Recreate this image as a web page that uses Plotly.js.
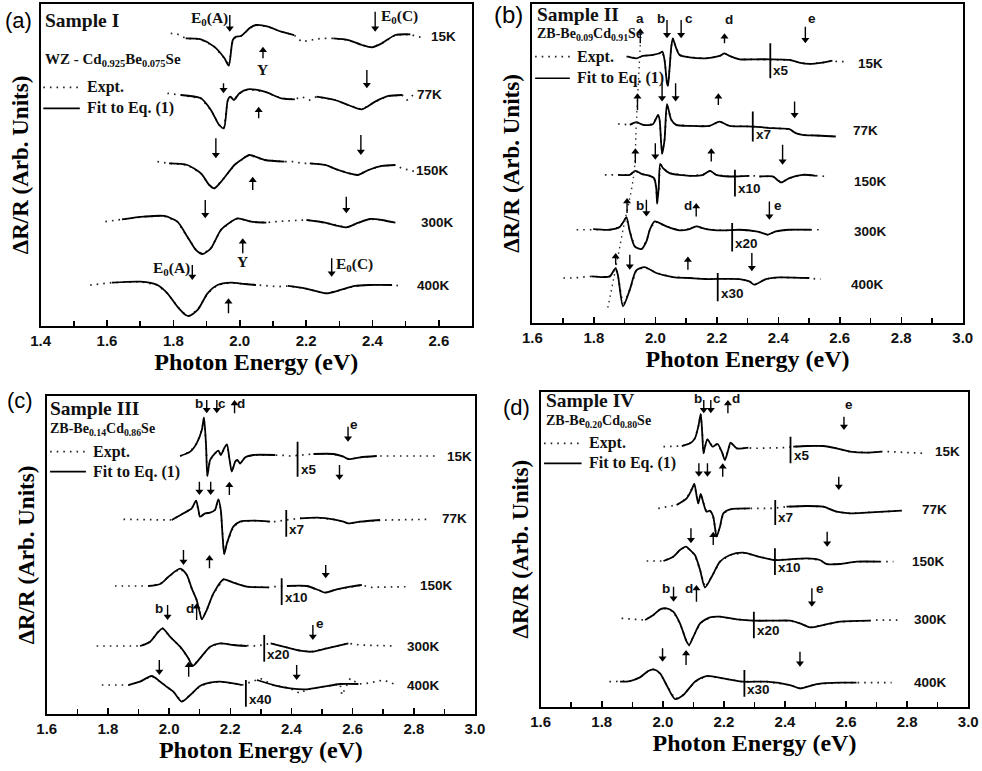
<!DOCTYPE html>
<html><head><meta charset="utf-8">
<script src="https://cdn.plot.ly/plotly-3.0.1.min.js"></script>
<style>html,body{margin:0;padding:0;background:#fff}#chart{width:982px;height:771px}</style>
</head><body><div id="chart"></div>
<script>
// ---------- shared ----------
const temps = ['15K','77K','150K','300K','400K'];

// ---------- Panel (a) : Sample I ----------
const a_off = [868,688,488,316,126];
const a_fitE = [
 [1.837,1.883,1.923,1.954,1.967,1.979,1.989,2.004,2.019,2.029,2.049,2.085,2.125,2.164,null,2.282,2.327,2.368,2.398,2.428,2.469,2.514],
 [1.822,1.883,1.913,1.938,1.952,1.964,1.972,1.982,1.999,2.024,2.075,2.125,2.166,null,2.231,2.287,2.327,2.368,2.408,2.448,2.489],
 [1.787,1.842,1.883,1.908,1.923,1.948,1.984,2.004,2.029,2.075,2.135,null,2.211,2.257,2.297,2.337,2.356,2.388,2.428,2.469],
 [1.645,1.711,1.772,1.812,1.842,1.868,1.888,1.913,1.943,1.974,1.994,2.034,2.080,null,2.201,2.257,2.297,2.322,2.358,2.393,2.428,2.469],
 [1.615,1.701,1.752,1.782,1.812,1.837,1.847,1.873,1.903,1.933,1.974,2.014,2.049,null,2.145,2.196,2.236,2.262,2.297,2.347,2.388,2.459]
];
const a_fitV = [
 [-5,-8,-30,-65,-87,-10,0,2,15,25,35,30,15,5,null,-5,-10,-25,-32,-20,5,7],
 [5,-5,-40,-85,-95,-10,0,-10,10,22,15,-5,-8,null,0,-10,-25,-38,-15,2,5],
 [0,-5,-30,-65,-75,-50,-5,10,25,10,5,null,0,-5,-20,-32,-35,-20,-8,-5],
 [4,12,14,-3,-48,-88,-100,-83,-28,-3,7,-3,-6,null,2,-6,-16,-20,-6,5,2,-6],
 [4,7,-3,-28,-68,-93,-96,-78,-28,-3,4,0,-3,null,-6,-13,-23,-28,-20,-6,-3,-3]
];
const a_dotE = [[1.792,1.812,2.186,2.216,2.246,2.534,2.549],[1.782,1.802,2.186,2.211,2.504,2.529],[1.752,2.166,2.186,2.489,2.529],[1.595,1.615,2.105,2.156],[1.549,1.580,2.085,2.115,2.489]];
const a_dotV = [[10,8,-15,-10,-5,0,-2],[10,8,0,-10,-10,10],[5,5,0,-15,-25],[-3,0,-3,0],[-3,0,-5,-8,-6]];
const a_arE = [1.970,2.408,2.070,1.951,2.383,2.057,1.928,2.365,2.039,1.896,2.321,2.009,1.857,2.277,1.966];
const a_arTail = [933,943,803,728,768,623,563,573,408,378,388,218,183,203,38];
const a_arTip = [883,883,838,698,713,658,503,513,448,323,338,263,138,148,83];
const a_lbl = ['E<sub>0</sub>(A)','E<sub>0</sub>(C)','Y','Y','E<sub>0</sub>(A)','E<sub>0</sub>(C)'];
const a_lblE = [1.908,2.481,2.070,2.009,1.794,2.347];
const a_lblY = [923,928,768,193,173,183];
const a_tE = [2.570,2.529,2.524,2.539,2.529];
const a_tY = [870,695,466,310,120];
const a_legE = [1.408,1.518];
const a_legY = [716,653];

// ---------- Panel (b) : Sample II ----------
const b_off = [800,595,445,280,135];
const b_fitE = [
 [1.911,1.938,1.960,1.992,2.014,2.023,2.030,2.038,2.041,2.046,2.052,2.057,2.066,2.079,2.111,2.165,2.209,2.225,2.241,2.274,2.328,2.371,2.436,2.468,2.501,2.544,2.576],
 [1.917,1.938,1.960,1.992,2.009,2.014,2.022,2.030,2.038,2.052,2.068,2.111,2.176,2.209,2.241,2.317,2.382,2.436,2.457,2.479,2.522,2.587],
 [1.879,1.917,1.935,1.955,1.982,1.996,2.003,2.006,2.011,2.016,2.025,2.046,2.111,2.155,2.178,2.198,2.241,2.306,null,2.338,2.382,2.409,2.436,2.479,2.522],
 [1.798,1.852,1.884,1.897,1.906,1.917,1.933,1.955,1.971,1.982,1.998,2.036,2.079,2.111,2.133,2.165,2.219,2.274,2.328,2.349,2.365,2.392,2.436,2.506],
 [1.792,1.830,1.852,1.871,1.879,1.895,1.917,1.938,1.965,2.003,2.057,2.111,2.165,2.274,2.306,2.322,2.360,2.403,2.501]
];
const b_fitV = [
 [0,-5,2,5,10,15,-10,-80,-88,-40,30,55,30,5,-2,-5,2,10,2,-8,-8,-8,-10,-18,-22,-18,-12],
 [0,8,0,2,30,15,-87,-45,62,15,0,-3,-3,10,-3,-5,-10,-13,-25,-30,-32,-35],
 [0,0,12,3,-3,-10,-40,-87,-40,33,20,5,-3,0,12,0,-5,-3,null,-5,-5,-23,-10,0,-3],
 [2,0,8,25,38,-5,-50,-58,-35,0,25,10,-2,2,10,2,-2,0,-5,-10,-15,-5,0,0],
 [5,3,5,30,5,-85,-35,23,33,15,3,0,-3,-3,-10,-20,-3,2,0]
];
const b_dotE = [[1.906,2.592,2.614],[1.879,1.895],[1.836,1.857,2.322,2.544,2.560],[1.744,1.771,2.533],[1.701,1.733,2.522,2.538]];
const b_dotV = [[0,-15,-15],[3,2],[0,0,-3,-3,-5],[0,0,0],[0,0,-3,-3]];
const b_guideE = [1.951,1.938,1.930,1.895,1.865,1.843];
const b_guideY = [835,595,445,280,135,35];
const b_arE = [1.951,2.038,2.084,2.225,2.488,1.942,2.022,2.066,2.205,2.453,1.935,2.000,2.182,2.414,1.908,1.971,2.133,2.371,1.871,1.917,2.106,2.314];
const b_arTail = [840,910,910,840,890,640,720,720,655,665,480,540,485,535,330,370,320,365,175,205,160,210];
const b_arTip = [885,855,855,870,840,690,665,665,690,615,525,490,525,475,375,320,360,310,210,160,200,155];
const b_lbl = ['a','b','c','d','e','b','d','e'];
const b_lblE = [1.951,2.019,2.109,2.239,2.509,1.949,2.106,2.399];
const b_lblY = [915,915,915,912,915,352,352,352];
const b_scE = [2.374,2.317,2.259,2.250,2.203];
const b_scY1 = [840,635,460,300,150];
const b_scY2 = [735,545,380,215,65];
const b_scTxt = ['x5','x7','x10','x20','x30'];
const b_tE = [2.652,2.636,2.641,2.641,2.630];
const b_tY = [780,578,425,275,115];
const b_legE = [1.609,1.722];
const b_legY = [800,735];

// ---------- Panel (c) : Sample III ----------
const c_off = [774,584,384,204,87];
const c_fitE = [
 [2.036,2.069,2.090,2.107,2.114,2.121,2.125,2.134,2.150,2.161,2.169,2.180,2.189,2.197,2.205,2.216,2.223,2.232,2.249,2.276,2.347,null,2.472,2.537,2.570,2.586,2.625,2.679],
 [2.009,2.047,2.074,2.088,2.096,2.101,2.118,2.134,2.150,2.161,2.169,2.175,2.180,2.189,2.210,2.232,2.276,2.330,null,2.428,2.483,2.537,2.570,2.586,2.625,2.690],
 [1.932,1.971,1.998,2.036,2.058,2.074,2.090,2.101,2.107,2.123,2.145,2.178,2.210,2.254,2.325,null,2.385,2.450,2.488,2.510,2.548,2.592,2.630],
 [1.905,1.938,1.965,1.979,2.003,2.036,2.063,2.077,2.101,2.134,2.167,2.210,2.254,null,2.332,2.374,2.428,2.466,2.516,2.586],
 [1.867,1.905,1.943,1.971,1.992,2.014,2.041,2.069,2.101,2.134,2.167,2.210,2.238,null,2.287,2.341,2.396,2.450,2.505,2.559,2.619]
];
const c_fitV = [
 [0,13,38,78,116,28,-60,-12,8,16,3,23,35,-7,-47,-17,-12,-22,-4,3,3,null,6,6,-2,-9,-4,0],
 [-2,18,33,56,28,8,18,20,28,60,28,-52,-104,-72,-22,-7,-4,-7,null,3,5,0,-7,-12,-7,-2],
 [0,6,28,52,33,-7,-42,-82,-100,-72,-22,20,10,-2,-4,null,0,0,-12,-20,-10,-2,3],
 [0,13,43,53,28,-2,-37,-60,-37,-2,8,3,0,null,8,-2,-14,-17,-7,8],
 [0,10,27,10,-5,-20,-50,-30,-3,7,10,5,0,null,15,0,-10,-13,-5,3,3]
];
const c_dotE = [[2.374,2.396,2.712,2.875],[1.851,1.927,2.352,2.379,2.712,2.853],[1.823,1.883,2.341,2.657,2.783],[1.763,1.829,2.287,2.625,2.734],[1.780,1.829,2.298,2.319,2.428,2.565,2.592,2.646,2.701,2.744]];
const c_dotV = [[2,0,0,0],[0,0,-7,-2,-2,0],[0,0,-2,-4,-2],[0,0,0,3,0],[0,0,20,10,-25,-30,20,5,15,0]];
const c_arE = [2.123,2.156,2.214,2.585,2.099,2.136,2.197,2.557,2.047,2.132,2.512,1.995,2.090,2.470,1.968,2.064,2.417];
const c_arTail = [942,942,902,862,697,697,657,747,492,437,447,327,282,267,162,112,147];
const c_arTip = [902,902,942,817,657,657,697,702,447,477,407,282,332,222,117,157,102];
const c_lbl = ['b','c','d','e','b','d','e'];
const c_lblE = [2.099,2.174,2.234,2.605,1.968,2.069,2.494];
const c_lblY = [930,930,930,867,317,317,272];
const c_scE = [2.420,2.383,2.368,2.311,2.251];
const c_scY1 = [817,612,407,237,102];
const c_scY2 = [712,532,327,157,22];
const c_scTxt = ['x5','x7','x10','x20','x40'];
const c_tE = [2.902,2.886,2.815,2.772,2.772];
const c_tY = [772,587,387,204,87];
const c_legE = [1.611,1.728];
const c_legY = [787,727];

// ---------- Panel (d) : Sample IV ----------
const d_off = [780,595,437,258,75];
const d_fitE = [
 [2.062,2.089,2.105,2.116,2.124,2.129,2.133,2.138,2.146,2.163,2.179,2.193,2.203,2.214,2.222,2.242,2.280,null,2.427,2.471,2.525,2.569,2.613,2.667,2.716],
 [2.045,2.078,2.094,2.103,2.111,2.116,2.124,2.133,2.143,2.154,2.165,2.176,2.187,2.198,2.220,2.285,null,2.405,2.471,2.525,2.569,2.613,2.667,2.782],
 [2.002,2.034,2.056,2.076,2.089,2.105,2.122,2.138,2.160,2.187,2.220,2.263,2.307,2.362,2.416,2.471,2.514,2.536,2.580,2.634,2.711],
 [1.942,1.969,1.991,2.012,2.034,2.056,2.078,2.086,2.100,2.122,2.154,2.187,2.242,2.296,2.362,2.416,2.449,2.482,2.525,2.580,2.678],
 [1.860,1.892,1.925,1.952,1.969,1.991,2.012,2.040,2.067,2.105,2.143,2.198,2.263,2.340,2.416,2.449,2.504,2.580,2.634]
];
const d_fitV = [
 [2,10,25,60,98,40,-20,0,22,0,8,-15,-40,-10,12,-5,-3,null,0,2,2,-5,-15,-18,-15],
 [10,30,55,73,35,15,43,15,-10,-7,-25,-85,-55,-15,-3,0,null,5,7,5,-10,-15,-13,-7],
 [0,13,33,43,33,18,-27,-79,-47,-2,18,25,15,3,5,8,3,-9,-9,-2,-2],
 [2,17,34,37,27,-8,-63,-73,-48,-8,10,12,4,0,0,0,-8,-20,-13,-3,0],
 [0,2,13,32,37,25,-10,-52,-40,0,17,10,0,0,-10,-20,-7,-3,-3]
];
const d_dotE = [[2.002,2.034,2.296,2.394,2.744,2.853],[1.985,2.012,2.307,2.362],[1.947,1.974,2.733,2.755],[1.865,1.914,2.700,2.776],[1.825,2.656,2.749]];
const d_dotV = [[0,0,-5,-3,-15,-20],[0,5,0,0],[0,0,-2,-2],[7,4,2,2],[0,-3,-3]];
const d_arE = [2.134,2.157,2.213,2.593,2.118,2.146,2.196,2.576,2.092,2.165,2.538,2.035,2.110,2.488,1.999,2.076,2.449];
const d_arTail = [920,920,880,870,730,730,690,690,535,485,525,360,315,355,175,125,165];
const d_arTip = [880,880,920,830,690,690,730,650,490,525,480,315,365,300,135,170,120];
const d_lbl = ['b','c','d','e','b','d','e'];
const d_lblE = [2.116,2.178,2.239,2.611,2.010,2.086,2.514];
const d_lblY = [925,925,925,905,355,355,355];
const d_scE = [2.418,2.368,2.367,2.298,2.267];
const d_scY1 = [810,620,475,285,110];
const d_scY2 = [730,545,395,205,30];
const d_scTxt = ['x5','x7','x10','x20','x30'];
const d_tE = [2.885,2.842,2.809,2.815,2.815];
const d_tY = [765,592,435,262,72];
const d_legE = [1.611,1.734];
const d_legY = [790,730];

// ---------- panel descriptors ----------
const SERIF = 'Liberation Serif, Times New Roman, serif';
const SANS = 'Liberation Sans, Arial, sans-serif';
const panels = [
 {tag:'(a)', tagSize:22, sample:'Sample I', comp:'WZ - Cd<sub>0.925</sub>Be<sub>0.075</sub>Se', compSize:15,
  sE:1.408, sY:918, cY:798, xr:[1.4,2.7], t0:1.4, yr:[0,966], hpx:322,
  dom:{x:[0.0414,0.4807], y:[0.5772,0.9948]}, tagPos:[0.003,0.974],
  off:a_off, fitE:a_fitE, fitV:a_fitV, dotE:a_dotE, dotV:a_dotV,
  arE:a_arE, arTail:a_arTail, arTip:a_arTip, lbl:a_lbl, lblE:a_lblE, lblY:a_lblY, lblFont:'serif',
  sc:null, tE:a_tE, tY:a_tY, legE:a_legE, legY:a_legY},
 {tag:'(b)', tagSize:24, sample:'Sample II', comp:'ZB-Be<sub>0.09</sub>Cd<sub>0.91</sub>Se', compSize:14,
  sE:1.609, sY:925, cY:865, xr:[1.6,3.0], t0:1.6, yr:[0,958], hpx:319,
  dom:{x:[0.5421,0.9804], y:[0.5811,0.9948]}, tagPos:[0.501,0.981],
  off:b_off, fitE:b_fitE, fitV:b_fitV, dotE:b_dotE, dotV:b_dotV,
  arE:b_arE, arTail:b_arTail, arTip:b_arTip, lbl:b_lbl, lblE:b_lblE, lblY:b_lblY, lblFont:'sans',
  sc:{E:b_scE, Y1:b_scY1, Y2:b_scY2, T:b_scTxt}, tE:b_tE, tY:b_tY, legE:b_legE, legY:b_legY,
  guide:{E:b_guideE, Y:b_guideY}},
 {tag:'(c)', tagSize:22, sample:'Sample III', comp:'ZB-Be<sub>0.14</sub>Cd<sub>0.86</sub>Se', compSize:14,
  sE:1.605, sY:917, cY:852, xr:[1.6,3.0], t0:1.6, yr:[0,954], hpx:318,
  dom:{x:[0.0476,0.4837], y:[0.0739,0.4864]}, tagPos:[0.005,0.481],
  off:c_off, fitE:c_fitE, fitV:c_fitV, dotE:c_dotE, dotV:c_dotV,
  arE:c_arE, arTail:c_arTail, arTip:c_arTip, lbl:c_lbl, lblE:c_lblE, lblY:c_lblY, lblFont:'sans',
  sc:{E:c_scE, Y1:c_scY1, Y2:c_scY2, T:c_scTxt}, tE:c_tE, tY:c_tY, legE:c_legE, legY:c_legY},
 {tag:'(d)', tagSize:22, sample:'Sample IV', comp:'ZB-Be<sub>0.20</sub>Cd<sub>0.80</sub>Se', compSize:14,
  sE:1.611, sY:918, cY:855, xr:[1.6,3.0], t0:1.6, yr:[0,945], hpx:315,
  dom:{x:[0.5506,0.9860], y:[0.0834,0.4920]}, tagPos:[0.510,0.472],
  off:d_off, fitE:d_fitE, fitV:d_fitV, dotE:d_dotE, dotV:d_dotV,
  arE:d_arE, arTail:d_arTail, arTip:d_arTip, lbl:d_lbl, lblE:d_lblE, lblY:d_lblY, lblFont:'sans',
  sc:{E:d_scE, Y1:d_scY1, Y2:d_scY2, T:d_scTxt}, tE:d_tE, tY:d_tY, legE:d_legE, legY:d_legY}
];

const traces = [];
const annotations = [];
const layout = {
  width:982, height:771, margin:{l:0,r:0,t:0,b:0},
  paper_bgcolor:'#fff', plot_bgcolor:'#fff', showlegend:false,
  font:{family:SANS, color:'#000'}
};
const DOT = {color:'#222', width:1.7, dash:'1.6px,5px'};
const FIT = {color:'#000', width:1.8, shape:'spline', smoothing:0.7};
const HEAD = 7; // arrow-head marker size (px)

panels.forEach((P, k) => {
  const n = k + 1;
  const xa = n === 1 ? 'x' : 'x' + n;
  const ya = n === 1 ? 'y' : 'y' + n;
  const xkey = n === 1 ? 'xaxis' : 'xaxis' + n;
  const ykey = n === 1 ? 'yaxis' : 'yaxis' + n;
  layout[xkey] = {
    domain:P.dom.x, anchor:ya, range:P.xr, tick0:P.t0, dtick:0.2, tickformat:'.1f',
    ticks:'inside', ticklen:6, tickwidth:1.5, tickcolor:'#000',
    minor:{dtick:0.1, ticks:'inside', ticklen:5, tickwidth:1.5, tickcolor:'#000'},
    showline:true, linewidth:2, linecolor:'#000', mirror:true,
    showgrid:false, zeroline:false, automargin:false,
    tickfont:{family:SANS, size:15, weight:'bold', color:'#111'},
    title:{text:'Photon Energy (eV)', font:{family:SERIF, size:24, weight:'bold', color:'#000'}, standoff:0}
  };
  layout[ykey] = {
    domain:P.dom.y, anchor:xa, range:P.yr, showline:true, linewidth:2, linecolor:'#000', mirror:true,
    ticks:'', showticklabels:false, showgrid:false, zeroline:false, automargin:false,
    title:{text:'ΔR/R (Arb. Units)', font:{family:SERIF, size:23, weight:'bold', color:'#000'}, standoff:4}
  };

  // spectra: dotted experiment + solid fit
  temps.forEach((t, i) => {
    const pts = [];
    P.fitE[i].forEach((e, j) => { if (e !== null) pts.push([e, P.fitV[i][j]]); });
    P.dotE[i].forEach((e, j) => pts.push([e, P.dotV[i][j]]));
    pts.sort((p, q) => p[0] - q[0]);
    traces.push({x:pts.map(p => p[0]), y:pts.map(p => P.off[i] + p[1]), xaxis:xa, yaxis:ya,
      mode:'lines', line:DOT, hoverinfo:'skip', name:t + ' expt'});
    traces.push({x:P.fitE[i], y:P.fitV[i].map(v => v === null ? null : P.off[i] + v), xaxis:xa, yaxis:ya,
      mode:'lines', line:FIT, connectgaps:false, hoverinfo:'skip', name:t + ' fit'});
    annotations.push({x:P.tE[i], y:P.tY[i], xref:xa, yref:ya, text:t, showarrow:false, xanchor:'left',
      font:{family:SANS, size:13.5, weight:'bold', color:'#111'}});
  });

  // guide line through feature "a" (panel b)
  if (P.guide) traces.push({x:P.guide.E, y:P.guide.Y, xaxis:xa, yaxis:ya, mode:'lines',
    line:{color:'#333', width:1.4, dash:'1.5px,4px', shape:'spline'}, hoverinfo:'skip'});

  // scale-change markers
  if (P.sc) {
    const sx = [], sy = [];
    P.sc.E.forEach((e, j) => { sx.push(e, e, null); sy.push(P.sc.Y1[j], P.sc.Y2[j], null); });
    traces.push({x:sx, y:sy, xaxis:xa, yaxis:ya, mode:'lines', line:{color:'#000', width:1.8}, hoverinfo:'skip'});
    P.sc.E.forEach((e, j) => annotations.push({x:e, y:P.sc.Y2[j], xref:xa, yref:ya, text:P.sc.T[j],
      showarrow:false, xanchor:'left', yanchor:'bottom', xshift:1, yshift:-2,
      font:{family:SANS, size:13.5, weight:'bold', color:'#111'}}));
  }

  // transition arrows: shafts + triangular heads
  const unitsPerPx = (P.yr[1] - P.yr[0]) / P.hpx;
  const shx = [], shy = [], upx = [], upy = [], dnx = [], dny = [];
  P.arE.forEach((e, j) => {
    const tip = P.arTip[j], tail = P.arTail[j];
    const dir = tip > tail ? 1 : -1;
    const headC = tip - dir * (HEAD / 2) * unitsPerPx;
    shx.push(e, e, null); shy.push(tail, headC, null);
    if (dir > 0) { upx.push(e); upy.push(headC); } else { dnx.push(e); dny.push(headC); }
  });
  traces.push({x:shx, y:shy, xaxis:xa, yaxis:ya, mode:'lines', line:{color:'#000', width:1.4}, hoverinfo:'skip'});
  traces.push({x:upx, y:upy, xaxis:xa, yaxis:ya, mode:'markers', marker:{symbol:'triangle-up', size:HEAD, color:'#000'}, hoverinfo:'skip'});
  traces.push({x:dnx, y:dny, xaxis:xa, yaxis:ya, mode:'markers', marker:{symbol:'triangle-down', size:HEAD, color:'#000'}, hoverinfo:'skip'});

  // arrow labels
  P.lbl.forEach((s, j) => annotations.push({x:P.lblE[j], y:P.lblY[j], xref:xa, yref:ya, text:s, showarrow:false,
    font: P.lblFont === 'serif' ? {family:SERIF, size:15.5, weight:'bold', color:'#111'} : {family:SANS, size:13.5, weight:'bold', color:'#111'}}));

  // in-plot legend
  traces.push({x:P.legE, y:[P.legY[0], P.legY[0]], xaxis:xa, yaxis:ya, mode:'lines', line:DOT, hoverinfo:'skip'});
  traces.push({x:P.legE, y:[P.legY[1], P.legY[1]], xaxis:xa, yaxis:ya, mode:'lines',
    line:{color:'#000', width:1.6}, hoverinfo:'skip'});
  const legFont = {family:SERIF, size:16, weight:'bold', color:'#111'};
  annotations.push({x:P.legE[1], y:P.legY[0], xref:xa, yref:ya, text:'Expt.', showarrow:false, xanchor:'left', xshift:5, font:legFont});
  annotations.push({x:P.legE[1], y:P.legY[1], xref:xa, yref:ya, text:'Fit to Eq. (1)', showarrow:false, xanchor:'left', xshift:5, font:legFont});
  annotations.push({x:P.sE, y:P.sY, xref:xa, yref:ya, text:P.sample, showarrow:false, xanchor:'left',
    font:{family:SERIF, size:19.5, weight:'bold', color:'#111'}});
  annotations.push({x:P.sE, y:P.cY, xref:xa, yref:ya, text:P.comp, showarrow:false, xanchor:'left',
    font:{family:SERIF, size:P.compSize, weight:'bold', color:'#111'}});

  // panel tag
  annotations.push({x:P.tagPos[0], y:P.tagPos[1], xref:'paper', yref:'paper', text:P.tag, showarrow:false,
    xanchor:'left', yanchor:'middle', font:{family:SANS, size:P.tagSize, color:'#000'}});
});
layout.annotations = annotations;
Plotly.newPlot('chart', traces, layout, {staticPlot:true, displayModeBar:false});
</script>
</body></html>
